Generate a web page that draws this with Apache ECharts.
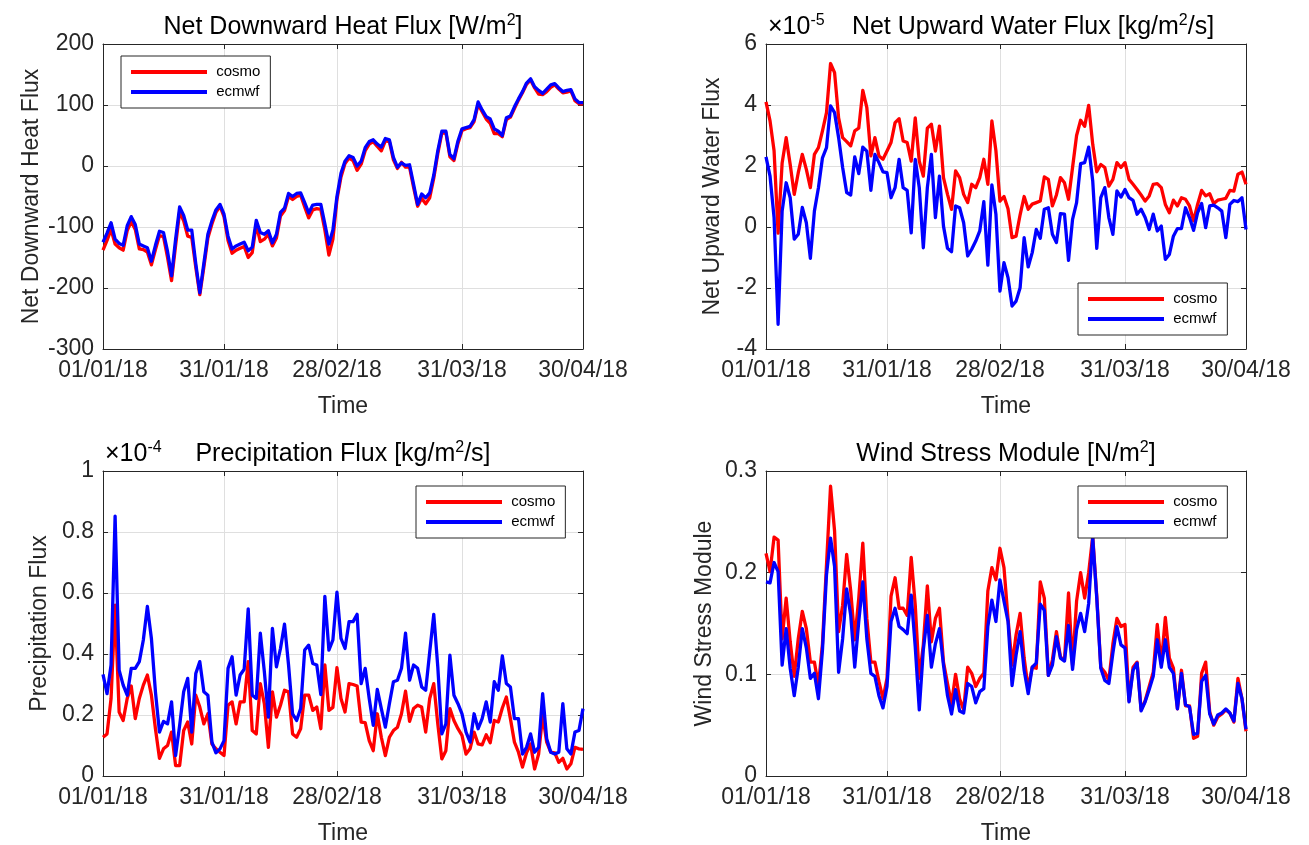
<!DOCTYPE html>
<html>
<head>
<meta charset="utf-8">
<title>COSMO vs ECMWF surface fluxes, Jan–Apr 2018</title>
<script src="https://cdn.jsdelivr.net/npm/echarts@6/dist/echarts.min.js"></script>
<style>
  html, body { margin: 0; padding: 0; background: #ffffff; }
  #chart { width: 1309px; height: 845px; }
</style>
</head>
<body>
<div id="chart"></div>
<script>
// Daily time axis, 01/01/18 .. 30/04/18
const pad = n => (n < 10 ? '0' : '') + n;
const days = [];
for (let t = Date.UTC(2018, 0, 1); t <= Date.UTC(2018, 3, 30); t += 86400000) {
  const d = new Date(t);
  days.push(pad(d.getUTCDate()) + '/' + pad(d.getUTCMonth() + 1) + '/' + String(d.getUTCFullYear()).slice(2));
}
const tickLabels = ['01/01/18', '31/01/18', '28/02/18', '31/03/18', '30/04/18'];

// Net downward heat flux [W/m^2]
const heatCosmo = [
  -138,-122,-104,-128,-134,-138,-106,-91,-104,-136,
  -137,-141,-162,-137,-114,-116,-150,-188,-130,-75,
  -90,-115,-117,-166,-211,-166,-118,-95,-76,-66,
  -83,-122,-143,-138,-135,-132,-150,-142,-96,-124,
  -120,-112,-131,-118,-82,-73,-50,-55,-50,-48,
  -67,-85,-72,-70,-71,-105,-146,-120,-55,-18,
  4,13,9,-7,3,25,36,40,32,25,
  41,40,10,-4,6,-2,-2,-35,-66,-53,
  -62,-52,-20,20,54,55,15,9,37,58,
  61,63,73,101,89,77,70,53,53,48,
  76,80,94,108,120,134,141,128,118,117,
  122,129,133,126,120,121,123,107,102,102
];
const heatEcmwf = [
  -125,-110,-93,-120,-127,-130,-98,-83,-96,-128,
  -131,-134,-156,-130,-107,-109,-140,-180,-120,-67,
  -81,-105,-105,-160,-208,-160,-112,-90,-72,-63,
  -79,-115,-136,-131,-128,-125,-139,-133,-89,-109,
  -112,-106,-126,-112,-76,-69,-45,-50,-45,-44,
  -60,-77,-64,-63,-63,-95,-128,-105,-50,-12,
  8,17,14,0,8,30,40,43,36,31,
  45,43,14,-2,5,1,2,-30,-63,-46,
  -52,-44,-15,25,57,57,19,12,41,61,
  63,65,76,105,92,81,77,61,57,50,
  79,82,97,110,122,136,143,130,124,119,
  126,133,135,128,122,124,125,110,104,104
];

// Net upward water flux, in units of 1e-5 kg/m^2/s
const waterCosmo = [
  4.10,3.48,2.50,-0.20,2.10,2.93,2.05,1.07,1.78,2.38,
  1.89,1.29,2.38,2.60,3.15,3.75,5.36,5.06,3.58,2.93,
  2.80,2.66,3.15,3.24,4.48,3.91,2.33,2.93,2.33,2.22,
  2.49,2.77,3.42,3.55,2.82,2.77,2.16,3.58,2.16,1.67,
  3.24,3.37,2.49,3.31,1.62,1.07,0.58,1.84,1.62,1.07,
  0.80,1.40,1.29,1.62,2.22,1.40,3.48,2.50,0.85,1.00,
  0.60,-0.35,-0.30,0.40,1.00,0.58,0.75,0.80,0.85,1.64,
  1.56,0.69,1.05,1.62,1.45,0.91,1.95,3.00,3.50,3.30,
  3.99,2.71,1.81,2.05,1.95,1.34,1.56,2.11,1.95,2.11,
  1.56,1.40,1.23,1.05,0.85,1.02,1.40,1.42,1.29,0.74,
  0.47,0.88,0.69,0.96,0.91,0.69,0.20,0.74,1.20,1.02,
  1.09,0.77,0.88,0.91,0.94,1.20,1.18,1.73,1.80,1.40
];
const waterEcmwf = [
  2.30,1.67,0.31,-3.19,0.52,1.45,0.96,-0.40,-0.24,0.64,
  0.14,-1.03,0.52,1.29,2.27,2.60,3.97,3.75,2.93,1.95,
  1.13,1.05,2.30,1.75,2.62,2.49,1.20,2.38,2.11,1.81,
  1.78,0.96,1.29,2.22,1.29,1.20,-0.19,2.22,1.29,-0.68,
  1.29,2.38,0.31,1.67,0.03,-0.70,-0.81,0.69,0.63,0.14,
  -0.95,-0.73,-0.46,-0.13,0.83,-1.25,1.38,0.42,-2.10,-1.17,
  -1.66,-2.59,-2.43,-1.99,-0.35,-1.31,-0.84,-0.08,-0.37,0.58,
  0.63,-0.24,-0.51,0.44,0.42,-1.09,0.25,0.80,2.08,2.11,
  2.62,1.51,-0.70,0.96,1.29,0.31,-0.24,1.18,0.98,1.23,
  0.96,0.87,0.42,0.58,0.31,-0.08,0.42,-0.13,0.03,-1.06,
  -0.90,-0.30,-0.05,-0.05,0.63,0.31,-0.11,0.47,0.77,-0.02,
  0.69,0.72,0.63,0.52,-0.35,0.74,0.87,0.83,0.96,-0.08
];

// Precipitation flux, in units of 1e-4 kg/m^2/s
const precipCosmo = [
  0.127,0.138,0.254,0.560,0.210,0.182,0.254,0.295,0.188,0.254,
  0.298,0.331,0.265,0.155,0.058,0.089,0.100,0.144,0.034,0.034,
  0.149,0.177,0.105,0.265,0.226,0.171,0.204,0.105,0.089,0.078,
  0.067,0.232,0.243,0.171,0.243,0.243,0.375,0.149,0.138,0.303,
  0.237,0.094,0.276,0.193,0.232,0.281,0.276,0.138,0.127,0.155,
  0.265,0.265,0.215,0.226,0.155,0.364,0.215,0.225,0.355,0.254,
  0.210,0.303,0.300,0.295,0.177,0.175,0.116,0.083,0.204,0.127,
  0.067,0.127,0.149,0.160,0.204,0.278,0.179,0.221,0.232,0.226,
  0.144,0.254,0.303,0.171,0.056,0.083,0.221,0.182,0.155,0.133,
  0.072,0.089,0.144,0.105,0.102,0.135,0.109,0.182,0.177,0.223,
  0.259,0.188,0.111,0.078,0.029,0.076,0.105,0.023,0.072,0.199,
  0.111,0.078,0.076,0.045,0.058,0.023,0.040,0.094,0.089,0.087
];
const precipEcmwf = [
  0.333,0.270,0.364,0.852,0.347,0.298,0.265,0.353,0.353,0.375,
  0.446,0.556,0.451,0.276,0.144,0.179,0.171,0.243,0.067,0.166,
  0.276,0.320,0.144,0.336,0.375,0.276,0.265,0.111,0.076,0.089,
  0.116,0.353,0.391,0.265,0.331,0.350,0.548,0.265,0.254,0.468,
  0.342,0.193,0.484,0.358,0.418,0.498,0.364,0.204,0.182,0.221,
  0.413,0.429,0.369,0.364,0.267,0.589,0.413,0.446,0.603,0.451,
  0.418,0.506,0.506,0.530,0.303,0.353,0.254,0.166,0.284,0.221,
  0.160,0.237,0.309,0.314,0.353,0.468,0.314,0.364,0.353,0.292,
  0.281,0.407,0.530,0.358,0.138,0.171,0.396,0.265,0.237,0.204,
  0.144,0.111,0.204,0.155,0.188,0.243,0.177,0.309,0.281,0.394,
  0.303,0.292,0.188,0.188,0.072,0.094,0.138,0.078,0.094,0.270,
  0.122,0.078,0.072,0.078,0.237,0.089,0.072,0.144,0.149,0.221
];

// Wind stress module [N/m^2]
const windCosmo = [
  0.219,0.201,0.235,0.232,0.135,0.175,0.132,0.098,0.135,0.162,
  0.145,0.112,0.112,0.089,0.130,0.208,0.285,0.241,0.142,0.168,
  0.218,0.182,0.134,0.175,0.229,0.155,0.112,0.112,0.093,0.076,
  0.096,0.177,0.195,0.165,0.165,0.158,0.215,0.168,0.096,0.129,
  0.187,0.132,0.155,0.165,0.112,0.091,0.071,0.100,0.076,0.065,
  0.107,0.101,0.088,0.096,0.101,0.182,0.205,0.193,0.224,0.205,
  0.155,0.109,0.139,0.160,0.116,0.086,0.107,0.106,0.191,0.175,
  0.099,0.114,0.142,0.117,0.114,0.180,0.109,0.172,0.200,0.175,
  0.200,0.236,0.177,0.107,0.102,0.094,0.130,0.155,0.147,0.149,
  0.074,0.107,0.112,0.065,0.074,0.088,0.102,0.149,0.110,0.156,
  0.116,0.106,0.066,0.104,0.069,0.069,0.037,0.039,0.101,0.112,
  0.063,0.050,0.058,0.061,0.065,0.062,0.053,0.096,0.076,0.044
];
const windEcmwf = [
  0.191,0.190,0.210,0.201,0.109,0.145,0.106,0.079,0.107,0.145,
  0.126,0.096,0.101,0.076,0.124,0.198,0.234,0.206,0.102,0.135,
  0.184,0.158,0.107,0.152,0.191,0.135,0.101,0.098,0.079,0.067,
  0.088,0.152,0.165,0.147,0.144,0.140,0.178,0.127,0.065,0.124,
  0.158,0.107,0.130,0.145,0.109,0.079,0.061,0.085,0.064,0.062,
  0.091,0.088,0.072,0.083,0.086,0.147,0.173,0.152,0.193,0.172,
  0.152,0.089,0.119,0.142,0.104,0.081,0.107,0.111,0.169,0.163,
  0.099,0.109,0.137,0.116,0.113,0.148,0.105,0.144,0.160,0.142,
  0.170,0.234,0.175,0.106,0.094,0.091,0.121,0.147,0.129,0.126,
  0.073,0.104,0.111,0.064,0.073,0.085,0.098,0.134,0.107,0.134,
  0.107,0.101,0.066,0.101,0.070,0.068,0.041,0.042,0.093,0.099,
  0.061,0.051,0.060,0.062,0.066,0.062,0.054,0.091,0.076,0.046
];

const FONT = "'Liberation Sans', Arial, Helvetica, sans-serif";
const AXIS_COLOR = '#262626';
const GRID_COLOR = '#dfdfdf';
const TICK_FONT = 23;
const TITLE_FONT = 25;

const tickIndex = new Set(tickLabels.map(l => days.indexOf(l)));
const onTick = idx => tickIndex.has(idx);

const panels = [
  { left: 103, top: 44, min: -300, max: 200, interval: 100,
    yName: 'Net Downward Heat Flux', yNameGap: 60,
    cosmo: heatCosmo, ecmwf: heatEcmwf, legend: { left: 121, top: 56 } },
  { left: 766, top: 44, min: -4, max: 6, interval: 2,
    yName: 'Net Upward Water Flux', yNameGap: 42,
    cosmo: waterCosmo, ecmwf: waterEcmwf, legend: { left: 1078, top: 283 } },
  { left: 103, top: 471, min: 0, max: 1, interval: 0.2,
    yName: 'Precipitation Flux', yNameGap: 52,
    cosmo: precipCosmo, ecmwf: precipEcmwf, legend: { left: 416, top: 486 } },
  { left: 766, top: 471, min: 0, max: 0.3, interval: 0.1,
    yName: 'Wind Stress Module', yNameGap: 50,
    cosmo: windCosmo, ecmwf: windEcmwf, legend: { left: 1078, top: 486 } }
];

const grid = [], xAxis = [], yAxis = [], series = [], legend = [];
const textBase = { color: AXIS_COLOR, fontFamily: FONT, fontSize: TICK_FONT, fontWeight: 'normal' };

panels.forEach((p, i) => {
  grid.push({ left: p.left, top: p.top, width: 480, height: 305, outerBoundsMode: 'none', containLabel: false });
  const frame = { show: true, onZero: false, lineStyle: { color: AXIS_COLOR, width: 1 } };
  const tick = { show: true, inside: true, length: 5, lineStyle: { color: AXIS_COLOR, width: 1 } };
  xAxis.push({
    type: 'category', gridIndex: i, data: days, boundaryGap: false, position: 'bottom',
    axisLine: frame,
    axisTick: Object.assign({ interval: onTick }, tick),
    axisLabel: Object.assign({ interval: onTick, margin: 10 }, textBase),
    splitLine: { show: true, interval: onTick, lineStyle: { color: GRID_COLOR, width: 1 } },
    name: 'Time', nameLocation: 'middle', nameGap: 46, nameTextStyle: textBase
  });
  xAxis.push({
    type: 'category', gridIndex: i, data: days, boundaryGap: false, position: 'top',
    axisLine: frame,
    axisTick: Object.assign({ interval: onTick }, tick),
    axisLabel: { show: false }, splitLine: { show: false }
  });
  yAxis.push({
    type: 'value', gridIndex: i, min: p.min, max: p.max, interval: p.interval, position: 'left',
    axisLine: frame, axisTick: tick,
    axisLabel: Object.assign({ margin: 9 }, textBase),
    splitLine: { show: true, lineStyle: { color: GRID_COLOR, width: 1 } },
    name: p.yName, nameLocation: 'middle', nameGap: p.yNameGap, nameTextStyle: textBase
  });
  yAxis.push({
    type: 'value', gridIndex: i, min: p.min, max: p.max, interval: p.interval, position: 'right',
    axisLine: frame, axisTick: tick,
    axisLabel: { show: false }, splitLine: { show: false }
  });
  [['cosmo', p.cosmo, '#ff0000', 2], ['ecmwf', p.ecmwf, '#0000ff', 3]].forEach(([name, data, color, z]) => {
    series.push({
      type: 'line', name, data, xAxisIndex: 2 * i, yAxisIndex: 2 * i, z,
      showSymbol: false, symbol: 'none', clip: true,
      lineStyle: { color, width: 3.3, join: 'round' }, itemStyle: { color }
    });
  });
  legend.push({
    left: p.legend.left, top: p.legend.top, orient: 'vertical',
    data: ['cosmo', 'ecmwf'], icon: 'rect', itemWidth: 76, itemHeight: 4, itemGap: 4,
    formatter: name => ' ' + name,
    padding: [8, 10, 8, 10], borderColor: AXIS_COLOR, borderWidth: 1, backgroundColor: '#ffffff',
    selectedMode: false,
    textStyle: { color: '#000000', fontFamily: FONT, fontSize: 15, lineHeight: 16 }
  });
});

const richTitle = {
  t: { fontFamily: FONT, fontSize: TITLE_FONT, fontWeight: 'normal', color: '#000000', lineHeight: 28 },
  s: { fontFamily: FONT, fontSize: 16, fontWeight: 'normal', color: '#000000', verticalAlign: 'top', lineHeight: 15 }
};
const mkTitle = (text, left, top, align) => ({
  text, left, top, textAlign: align, padding: 0,
  textStyle: { rich: richTitle, fontFamily: FONT, fontSize: TITLE_FONT, fontWeight: 'normal' }
});

const title = [
  mkTitle('{t|Net Downward Heat Flux [W/m}{s|2}{t|]}', 343, 13, 'center'),
  mkTitle('{t|Net Upward Water Flux [kg/m}{s|2}{t|/s]}', 1033, 13, 'center'),
  mkTitle('{t|×10}{s|-5}', 768, 13, 'left'),
  mkTitle('{t|Precipitation Flux [kg/m}{s|2}{t|/s]}', 343, 440, 'center'),
  mkTitle('{t|×10}{s|-4}', 105, 440, 'left'),
  mkTitle('{t|Wind Stress Module [N/m}{s|2}{t|]}', 1006, 440, 'center')
];

const chart = echarts.init(document.getElementById('chart'), null, { renderer: 'canvas' });
chart.setOption({
  animation: false,
  backgroundColor: '#ffffff',
  textStyle: { fontFamily: FONT },
  title, grid, xAxis, yAxis, series, legend
});
</script>
</body>
</html>
